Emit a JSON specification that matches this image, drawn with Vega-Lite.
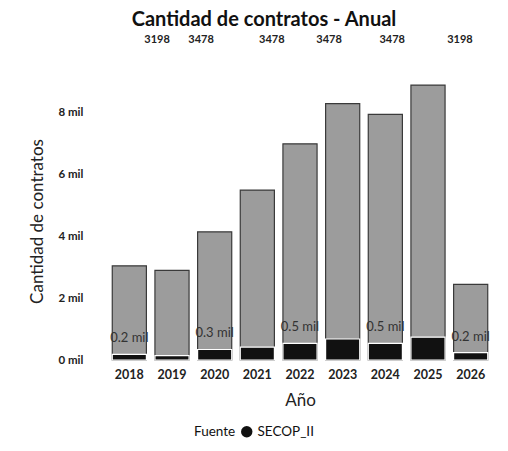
{
  "$schema": "https://vega.github.io/schema/vega-lite/v6.json",
  "autosize": {"type": "none"},
  "width": 384,
  "height": 278,
  "padding": {"left": 108, "top": 82, "right": 16, "bottom": 91},
  "background": "white",
  "title": {
    "text": "Cantidad de contratos - Anual",
    "font": "Lato",
    "fontSize": 20,
    "fontWeight": "bold",
    "color": "#111",
    "anchor": "middle",
    "frame": "group",
    "dx": -36,
    "offset": 4
  },
  "config": {
    "view": {"stroke": null},
    "font": "Lato",
    "axis": {"grid": false, "domain": false, "ticks": false, "labelColor": "#222", "titleColor": "#222", "labelFont": "Lato", "titleFont": "Lato"}
  },
  "datasets": {
    "bars": [
      {"Año": "2018", "Total": 3050, "Secop": 180, "Fuente": "SECOP_II", "Label": "0.2 mil"},
      {"Año": "2019", "Total": 2900, "Secop": 140, "Fuente": "SECOP_II", "Label": ""},
      {"Año": "2020", "Total": 4150, "Secop": 340, "Fuente": "SECOP_II", "Label": "0.3 mil"},
      {"Año": "2021", "Total": 5500, "Secop": 420, "Fuente": "SECOP_II", "Label": ""},
      {"Año": "2022", "Total": 7000, "Secop": 540, "Fuente": "SECOP_II", "Label": "0.5 mil"},
      {"Año": "2023", "Total": 8300, "Secop": 680, "Fuente": "SECOP_II", "Label": ""},
      {"Año": "2024", "Total": 7950, "Secop": 540, "Fuente": "SECOP_II", "Label": "0.5 mil"},
      {"Año": "2025", "Total": 8900, "Secop": 740, "Fuente": "SECOP_II", "Label": ""},
      {"Año": "2026", "Total": 2450, "Secop": 240, "Fuente": "SECOP_II", "Label": "0.2 mil"}
    ],
    "top": [
      {"pos": 2018.65, "valor": "3198", "nivel": 10350},
      {"pos": 2019.68, "valor": "3478", "nivel": 10350},
      {"pos": 2021.34, "valor": "3478", "nivel": 10350},
      {"pos": 2022.68, "valor": "3478", "nivel": 10350},
      {"pos": 2024.16, "valor": "3478", "nivel": 10350},
      {"pos": 2025.75, "valor": "3198", "nivel": 10350}
    ]
  },
  "resolve": {"scale": {"x": "independent"}},
  "layer": [
    {
      "layer": [
        {
          "data": {"name": "bars"},
          "mark": {"type": "bar", "color": "#9c9c9c", "stroke": "#3a3a3a", "strokeWidth": 1.2},
          "encoding": {
            "x": {
              "field": "Año", "type": "ordinal",
              "scale": {"paddingInner": 0.2},
              "axis": {"title": "Año", "labelAngle": 0, "labelFontSize": 12.5, "labelFontWeight": "bold", "labelPadding": 8, "titleFontSize": 17, "titleFontWeight": "normal", "titlePadding": 12}
            },
            "y": {
              "field": "Total", "type": "quantitative",
              "scale": {"domain": [0, 9000], "nice": false},
              "axis": {
                "title": "Cantidad de contratos",
                "values": [0, 2000, 4000, 6000, 8000],
                "labelExpr": "datum.value / 1000 + ' mil'",
                "labelFontSize": 11.5,
                "labelFontWeight": "bold",
                "labelAlign": "left",
                "labelPadding": 50,
                "titleFontSize": 17,
                "titleFontWeight": "normal",
                "titlePadding": 12
              }
            }
          }
        },
        {
          "data": {"name": "bars"},
          "mark": {"type": "bar", "stroke": "white", "strokeWidth": 1.2},
          "encoding": {
            "x": {"field": "Año", "type": "ordinal"},
            "y": {"field": "Secop", "type": "quantitative"},
            "color": {
              "field": "Fuente", "type": "nominal",
              "scale": {"domain": ["SECOP_II"], "range": ["#111111"]},
              "legend": {
                "title": "Fuente",
                "orient": "none",
                "legendX": 86,
                "legendY": 343,
                "direction": "horizontal",
                "titleOrient": "left",
                "symbolType": "circle",
                "symbolSize": 130,
                "symbolStrokeWidth": 0,
                "labelFontSize": 13.5,
                "titleFontSize": 13.5,
                "titleFontWeight": "normal",
                "labelColor": "#111",
                "titleColor": "#111",
                "titlePadding": 4
              }
            }
          }
        },
        {
          "data": {"name": "bars"},
          "mark": {"type": "text", "baseline": "bottom", "dy": -9, "fontSize": 13, "color": "#333"},
          "encoding": {
            "x": {"field": "Año", "type": "ordinal"},
            "y": {"field": "Secop", "type": "quantitative"},
            "text": {"field": "Label"}
          }
        }
      ]
    },
    {
      "data": {"name": "top"},
      "mark": {"type": "text", "fontSize": 11, "fontWeight": "bold", "color": "#222", "baseline": "middle"},
      "encoding": {
        "x": {"field": "pos", "type": "quantitative", "scale": {"domain": [2017.5, 2026.5], "nice": false, "zero": false}, "axis": null},
        "y": {"field": "nivel", "type": "quantitative"},
        "text": {"field": "valor"}
      }
    }
  ]
}
